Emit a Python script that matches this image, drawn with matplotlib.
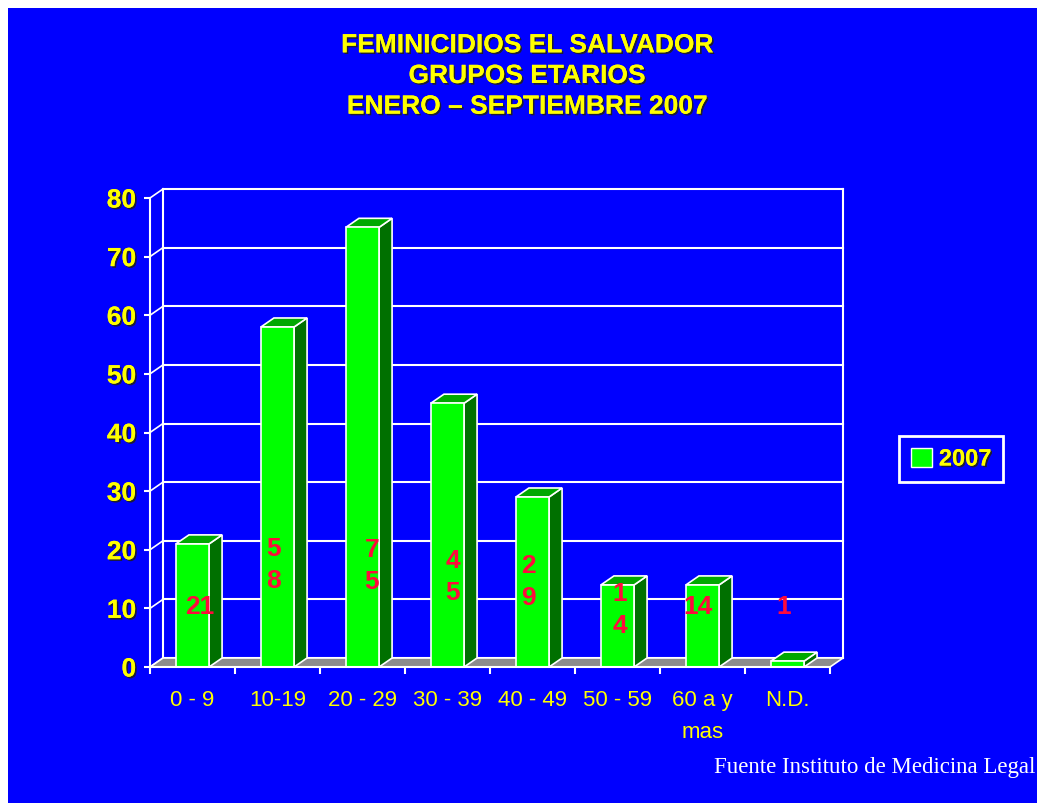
import matplotlib.pyplot as plt
import matplotlib.patheffects as pe
from matplotlib.patches import Polygon, Rectangle, Patch

categories = ["0 - 9", "10-19", "20 - 29", "30 - 39", "40 - 49", "50 - 59", "60 a y\nmas", "N.D."]
values = [21, 58, 75, 45, 29, 14, 14, 1]
value_labels = ["21", "5\n8", "7\n5", "4\n5", "2\n9", "1\n4", "14", "1"]
series_name = "2007"
yticks = [0, 10, 20, 30, 40, 50, 60, 70, 80]

# where the (odd) red labels sit on each bar
label_y = [10.4, 17.6, 17.4, 15.5, 14.7, 9.9, 10.4, 10.4]
label_dx = [0.09, -0.05, 0.11, 0.06, -0.05, 0.03, -0.05, -0.05]

blue = "#0000ff"
yellow = "#ffff00"
green = "#00ff00"
dark_green = "#007000"
top_green = "#00a800"
red = "#ff0a3c"
font = "Liberation Sans"

W, H = 1039, 804
fig = plt.figure(figsize=(W / 100, H / 100), dpi=100)
fig.patch.set_facecolor("white")
fig.patches.append(Rectangle((8 / W, 0), 1029 / W, 795 / H, transform=fig.transFigure,
                             facecolor=blue, edgecolor="none", zorder=-10))

ax = fig.add_axes([150 / W, 136 / H, 680 / W, 469 / H])
ax.set_facecolor("none")
ax.set_xlim(-0.5, 7.5)
ax.set_ylim(0, 80)

# 3d depth offsets (data units)
dx = 13 / 85
dy = 9 / (469 / 80)
n = len(categories)

shadow = [pe.withSimplePatchShadow(offset=(1.2, -1.2), shadow_rgbFace="#202020", alpha=0.9), pe.Normal()]

# back wall gridlines
for v in yticks:
    ax.plot([-0.5 + dx, n - 0.5 + dx], [v + dy, v + dy], color="white", lw=1.5, clip_on=False, zorder=1)
    ax.plot([-0.5, -0.5 + dx], [v, v + dy], color="white", lw=1.2, clip_on=False, zorder=1)
ax.plot([-0.5 + dx, -0.5 + dx], [dy, 80 + dy], color="white", lw=1.5, clip_on=False, zorder=1)
ax.plot([n - 0.5 + dx, n - 0.5 + dx], [dy, 80 + dy], color="white", lw=1.5, clip_on=False, zorder=1)

# floor
floor = Polygon([(-0.5, 0), (n - 0.5, 0), (n - 0.5 + dx, dy), (-0.5 + dx, dy)],
                closed=True, facecolor="#8c8c8c", edgecolor="white", lw=1.2, clip_on=False, zorder=2)
ax.add_patch(floor)

# bars
w = 0.39
bars = ax.bar(range(n), values, width=w, color=green, edgecolor="white", linewidth=1.2, zorder=5, clip_on=False)
for i, v in enumerate(values):
    l, r = i - w / 2, i + w / 2
    side = Polygon([(r, 0), (r + dx, dy), (r + dx, v + dy), (r, v)], closed=True,
                   facecolor=dark_green, edgecolor="white", lw=1.2, clip_on=False, zorder=4)
    top = Polygon([(l, v), (r, v), (r + dx, v + dy), (l + dx, v + dy)], closed=True,
                  facecolor=top_green, edgecolor="white", lw=1.2, clip_on=False, zorder=4)
    ax.add_patch(side)
    ax.add_patch(top)
    ax.text(i + label_dx[i], label_y[i], value_labels[i], color=red, fontsize=19, fontweight="bold",
            family=font, ha="center", va="center", linespacing=1.4, zorder=10)

# axes styling
for s in ["top", "right"]:
    ax.spines[s].set_visible(False)
for s in ["left", "bottom"]:
    ax.spines[s].set_color("white")
    ax.spines[s].set_linewidth(1.5)
    ax.spines[s].set_zorder(6)

ax.set_yticks(yticks)
ax.tick_params(axis="y", colors="white", length=4, width=1.5, pad=6)
for t in ax.get_yticklabels():
    t.set_color(yellow)
    t.set_fontsize(19)
    t.set_fontweight("bold")
    t.set_family(font)
    t.set_path_effects(shadow)

ax.set_xticks([i - 0.5 for i in range(n + 1)])
ax.set_xticklabels([])
ax.tick_params(axis="x", which="major", colors="white", length=5, width=1.5, direction="out")
ax.set_xticks(range(n), minor=True)
ax.set_xticklabels(categories, minor=True)
ax.tick_params(axis="x", which="minor", length=0, pad=16)
for t in ax.get_xticklabels(minor=True):
    t.set_color(yellow)
    t.set_fontsize(16)
    t.set_family(font)
    t.set_linespacing(1.65)

# title
fig.text(527 / W, 1 - 77 / H, "FEMINICIDIOS EL SALVADOR\nGRUPOS ETARIOS\nENERO – SEPTIEMBRE 2007",
         color=yellow, fontsize=19, fontweight="bold", family=font, ha="center", va="center",
         linespacing=1.35, path_effects=shadow)

# legend
leg = fig.legend(handles=[Patch(facecolor=green, edgecolor="white", lw=1, label=series_name)],
                 loc="center", bbox_to_anchor=(951 / W, 1 - 460 / H), frameon=True, fancybox=False,
                 handlelength=0.9, handleheight=0.9, handletextpad=0.3, borderpad=0.5,
                 prop={"family": font, "weight": "bold", "size": 17})
leg.get_frame().set_facecolor(blue)
leg.get_frame().set_edgecolor("white")
leg.get_frame().set_linewidth(2)
leg.get_frame().set_alpha(1)
for t in leg.get_texts():
    t.set_color(yellow)
    t.set_path_effects(shadow)

# source
fig.text(1035 / W, 1 - 768 / H, "Fuente Instituto de Medicina Legal", color="white",
         fontsize=16.5, family="Liberation Serif", ha="right", va="center")

fig.savefig("out.png", dpi=100, facecolor=fig.get_facecolor())
